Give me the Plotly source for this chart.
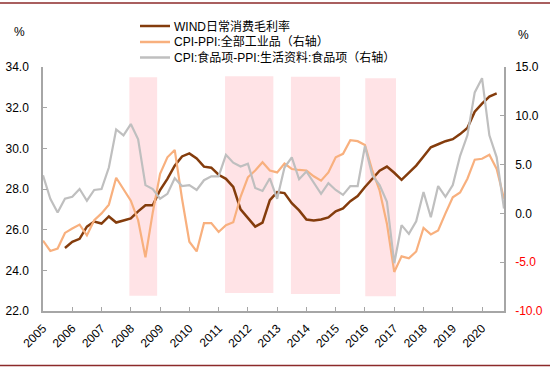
import plotly.graph_objects as go

# ---------------- data ----------------
years = list(range(2005, 2021))
year_labels = [str(y) for y in years]
quarters = [2005 + i * 0.25 for i in range(64)]   # 2005Q1 .. 2020Q4

margin_wind = [None, None, None, 25.1, 25.4, 25.55, 26.15, 26.4, 26.3, 26.65,
               26.35, 26.45, 26.55, 26.9, 27.2, 27.2, 27.95, 28.5, 29.15, 29.6,
               29.75, 29.5, 29.1, 29.05, 28.7, 28.5, 28.1, 27.0, 26.55, 26.15,
               26.35, 27.45, 27.85, 27.8, 27.3, 26.95, 26.5, 26.45, 26.5, 26.6,
               26.9, 27.05, 27.4, 27.65, 28.1, 28.5, 28.9, 29.1, 28.8, 28.45,
               28.8, 29.15, 29.6, 30.05, 30.2, 30.35, 30.45, 30.7, 31.0, 31.8,
               32.2, 32.55, 32.7, None]

cpi_ppi_all = [-2.8, -3.85, -3.6, -2.0, -1.55, -1.15, -2.25, -0.7, 0.0, 0.9,
               3.65, 2.5, 1.3, -0.7, -4.5, 0.1, 4.05, 5.75, 6.5, 1.5,
               -2.9, -3.9, -1.0, -1.0, -1.9, -1.2, -0.9, 1.7, 3.7, 4.4,
               5.25, 4.4, 4.2, 5.1, 4.55, 4.45, 4.4, 3.8, 3.35, 4.2,
               5.75, 6.1, 7.5, 7.4, 7.0, 4.4, 2.35, -1.05, -6.0, -4.4,
               -4.6, -3.9, -1.5, -2.15, -1.75, 0.0, 1.65, 2.15, 3.55, 5.5,
               5.6, 6.0, 4.55, 1.5]

cpi_ppi_food = [3.9, 1.5, 0.1, 1.5, 1.7, 2.5, 1.3, 2.4, 2.5, 4.7,
                8.6, 8.0, 9.15, 7.6, 2.9, 2.5, 1.5, 2.0, 3.6, 2.8,
                2.9, 2.4, 3.4, 3.8, 3.8, 6.0, 5.2, 4.8, 5.1, 2.6,
                2.3, 3.6, 1.5, 4.7, 5.75, 3.5, 4.3, 3.1, 2.0, 3.1,
                2.4, 1.9, 2.8, 2.8, 6.9, 3.9, 2.9, 1.2, -5.1, -1.2,
                -2.1, -0.8, 2.2, -0.4, 2.8, 1.7, 2.9, 5.9, 8.0, 12.4,
                13.85, 8.0, 5.75, 0.5]

# shaded periods (start, end) in years
shade_periods = [(2007.95, 2008.9), (2011.22, 2012.87), (2013.47, 2015.15), (2016.01, 2017.06)]
shade_top = [33.5, 33.55, 33.52, 33.45]
shade_bottom = [22.75, 22.88, 22.83, 22.72]

names = ["WIND日常消费毛利率", "CPI-PPI:全部工业品（右轴）", "CPI:食品项-PPI:生活资料:食品项（右轴）"]
colors = ["#843C0C", "#F8B07E", "#BFBFBF"]

left_ticks = [22, 24, 26, 28, 30, 32, 34]
right_ticks = [-10, -5, 0, 5, 10, 15]

# ---------------- layout geometry ----------------
W, H = 550, 367
L, R, T, B = 43, 46, 67, 56
PW, PH = W - L - R, H - T - B

def px(x):
    return (x - L) / PW

def py(y):
    return (H - B - y) / PH

fig = go.Figure()

fig.add_trace(go.Scatter(x=quarters, y=margin_wind, mode="lines", name=names[0],
                         line=dict(color=colors[0], width=2.5), yaxis="y"))
fig.add_trace(go.Scatter(x=quarters, y=cpi_ppi_all, mode="lines", name=names[1],
                         line=dict(color=colors[1], width=2.2), yaxis="y2"))
fig.add_trace(go.Scatter(x=quarters, y=cpi_ppi_food, mode="lines", name=names[2],
                         line=dict(color=colors[2], width=2.2), yaxis="y2"))

shapes = []
for (x0, x1), y1, y0 in zip(shade_periods, shade_top, shade_bottom):
    shapes.append(dict(type="rect", xref="x", yref="y", x0=x0, x1=x1, y0=y0, y1=y1,
                       fillcolor="#FFE3E6", line=dict(width=0), layer="below"))

# border lines top & bottom
for yy in (3, 365.5):
    shapes.append(dict(type="line", xref="paper", yref="paper", x0=px(0), x1=px(W),
                       y0=py(yy), y1=py(yy), line=dict(color="#8C2A2A", width=1.5)))

annotations = []
# manual legend
leg_rows = [26, 42, 57.5]
for name, col, yy in zip(names, colors, leg_rows):
    shapes.append(dict(type="line", xref="paper", yref="paper", x0=px(140), x1=px(170),
                       y0=py(yy), y1=py(yy), line=dict(color=col, width=2.5)))
    annotations.append(dict(xref="paper", yref="paper", x=px(172), y=py(yy), text=name,
                            showarrow=False, xanchor="left", yanchor="middle",
                            font=dict(size=12, color="#000000",
                                      family="Liberation Sans, Noto Sans CJK SC")))

annotations.append(dict(xref="paper", yref="paper", x=px(19), y=py(32), text="%",
                        showarrow=False, xanchor="center", yanchor="middle",
                        font=dict(size=12, color="#000000")))
annotations.append(dict(xref="paper", yref="paper", x=px(523), y=py(35), text="%",
                        showarrow=False, xanchor="center", yanchor="middle",
                        font=dict(size=12, color="#000000")))

right_text = [("<span style='color:#FF0000'>%.1f</span>" % v) if v < 0 else ("%.1f" % v)
              for v in right_ticks]

axis_col = "#A6A6A6"
fig.update_layout(
    width=W, height=H,
    margin=dict(l=L, r=R, t=T, b=B, autoexpand=False),
    paper_bgcolor="white", plot_bgcolor="white",
    showlegend=False,
    font=dict(family="Liberation Sans, Arial, Noto Sans CJK SC", size=12, color="#000000"),
    xaxis=dict(range=[2005, 2020.75], tickvals=years, ticktext=year_labels,
               tickangle=-45, showgrid=False, zeroline=False, automargin=False,
               showline=True, linecolor=axis_col, linewidth=1.5,
               ticks="inside", ticklen=4, tickcolor=axis_col,
               tickfont=dict(size=12), ticklabelstandoff=4),
    yaxis=dict(range=[22, 34], tickvals=left_ticks,
               ticktext=["%.1f" % v for v in left_ticks],
               showgrid=False, zeroline=False, automargin=False,
               showline=True, linecolor=axis_col, linewidth=1.5,
               ticks="inside", ticklen=4, tickcolor=axis_col,
               tickfont=dict(size=12), ticklabelstandoff=10),
    yaxis2=dict(range=[-10, 15], tickvals=right_ticks, ticktext=right_text,
                overlaying="y", side="right", showgrid=False, zeroline=False,
                automargin=False,
                showline=True, linecolor=axis_col, linewidth=1.5,
                ticks="inside", ticklen=4, tickcolor=axis_col,
                tickfont=dict(size=12), ticklabelstandoff=7),
    shapes=shapes,
    annotations=annotations,
)

fig.write_html("out.html", config={"displayModeBar": False},
               post_script="document.body.style.margin='0';document.body.style.overflow='hidden';")
